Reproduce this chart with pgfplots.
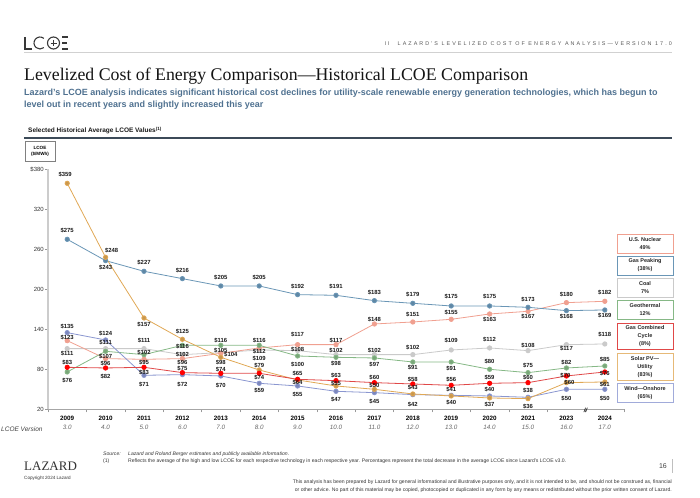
\documentclass[border=0pt]{standalone}
\usepackage{fontspec}
\setmainfont{Liberation Sans}
\newfontfamily\serif{Liberation Serif}
\newfontfamily\spaced{Liberation Sans}[LetterSpace=38]
\usepackage{pgfplots}
\usepackage{pgfplotstable}
\pgfplotsset{compat=1.18}

\definecolor{cNuc}{HTML}{F0A090}
\definecolor{cGP}{HTML}{6A96B6}
\definecolor{cCoal}{HTML}{CACACA}
\definecolor{cGeo}{HTML}{86B886}
\definecolor{cGCC}{HTML}{E04848}
\definecolor{cRed}{HTML}{FF0000}
\definecolor{cSol}{HTML}{E0A855}
\definecolor{cWind}{HTML}{8A96D0}
\definecolor{cSub}{HTML}{4F7190}
\definecolor{cRule}{HTML}{3C4A58}

\newcommand\lab{\fontsize{5.9}{6}\selectfont\bfseries}
\newcommand\yl[2]{\textbf{#1}\\\textcolor{black!60}{\itshape #2}}

% x = position (2022 not shown), y = LCOE, dy/dx = label offset in pt
\pgfplotstableread{
x y dy dx
0 275 8.6 0
1 243 -7 0
2 227 8.5 0
3 216 8.6 0
4 205 8.6 0
5 205 8.6 0
6 192 8.6 0
7 191 8.6 0
8 183 8.6 0
9 179 9 0
10 175 9.5 0
11 175 9.5 0
12 173 8 0
13 168 -6 0
14 169 -6 0
}\tGP
\pgfplotstableread{
x y dy dx
0 359 9.2 -2
1 248 6.5 6
2 157 -6.3 0
3 125 7.6 0
4 98 -5.4 0
5 79 4.3 0
6 64 -2.7 0
7 55 2.7 0
8 50 3.3 0
9 43 6.7 0
10 40 -6.3 0
11 37 -7 0
12 36 -7.4 0
13 60 0 3
14 61 -2.3 0
}\tSol
\pgfplotstableread{
x y dy dx
0 123 3.3 0
1 96 -4.5 0
2 95 -3.4 0
3 96 -4 0
4 104 -1.5 10
5 112 -3.3 0
6 117 10 0
7 117 4.6 0
8 148 4.7 0
9 151 7.7 0
10 155 6.6 0
11 163 -5.3 0
12 167 -5.4 0
13 180 8.3 0
14 182 8.6 0
}\tNuc
\pgfplotstableread{
x y dy dx
0 111 -4.7 0
1 111 6.6 0
2 111 8 0
3 102 0 0
4 105 2.6 0
5 109 -9 0
6 108 1.6 0
7 102 4.6 0
8 102 4.6 0
9 102 7 0
10 109 9 0
11 112 8.7 0
12 108 5.6 0
13 117 -4 0
14 118 9.7 0
}\tCoal
\pgfplotstableread{
x y dy dx
0 76 -9 0
1 107 -5 0
2 102 2 0
3 116 -1 0
4 116 4.6 0
5 116 4.3 0
6 100 -9 0
7 98 -6 0
8 97 -6.3 0
9 91 -5.7 0
10 91 -7 0
11 80 7.6 0
12 75 7.6 0
13 82 5.7 0
14 85 6 0
}\tGeo
\pgfplotstableread{
x y dy dx
0 83 4.6 0
1 82 -9 0
2 83 -5.3 0
3 75 4.3 0
4 74 4 0
5 74 -4.3 0
6 65 5.6 0
7 63 5 0
8 60 5.3 0
9 58 4 0
10 56 6 0
11 59 5.6 0
12 60 4.9 0
13 70 0 -1
14 76 -1.6 0
}\tGCC
\pgfplotstableread{
x y dy dx
0 135 6 0
1 124 6.7 0
2 71 -9 0
3 72 -9.7 0
4 70 -9.7 0
5 59 -7.4 0
6 55 -9 0
7 47 -8.7 0
8 45 -9 0
9 42 -9.7 0
10 41 5.3 0
11 40 6.7 0
12 38 6.6 0
13 50 -9.7 0
14 50 -9.7 0
}\tWind

\newcommand\lbox[5]{%
  \draw[#1, line width=0.7pt] (617pt,-#2pt) rectangle (673pt,-#3pt);
  \node[align=center, inner sep=0pt, font=\fontsize{5.5}{8}\selectfont\bfseries, text=black!85]
    at (645pt,{-(#2+#3)/2*1pt}) {#4};}

\begin{document}
\begin{tikzpicture}
\useasboundingbox (0,0) rectangle (700pt,-497pt);

% logo
\begin{scope}[draw=black!78, line width=1.1pt]
\draw (25pt,-37pt) -- (25pt,-49pt) -- (32pt,-49pt);
\draw (40pt,-43pt) ++(50:6pt) arc[start angle=50, end angle=310, radius=6pt];
\draw (53.5pt,-43pt) circle[radius=6pt];
\draw[line width=0.8pt] (50.5pt,-43pt) -- (56.5pt,-43pt) (53.5pt,-40pt) -- (53.5pt,-46pt);
\draw (62pt,-37pt) -- (68pt,-37pt) (62pt,-43pt) -- (67pt,-43pt) (62pt,-49pt) -- (68pt,-49pt);
\end{scope}
\node[anchor=base east, inner sep=0pt, font=\spaced\fontsize{5.4}{6}\selectfont, text=black!65]
  at (672pt,-46pt) {II\hspace{8pt}LAZARD'S LEVELIZED COST OF ENERGY ANALYSIS—VERSION 17.0};
\draw[black!18, line width=0.6pt] (24pt,-52pt) -- (672pt,-52pt);

% titles
\node[anchor=base west, inner sep=0pt, font=\serif\fontsize{17.8}{20}\selectfont, text=black!92]
  at (24pt,-80.5pt) {Levelized Cost of Energy Comparison—Historical LCOE Comparison};
\node[anchor=base west, inner sep=0pt, font=\fontsize{9}{10}\selectfont\bfseries, text=cSub]
  at (24pt,-95.5pt) {Lazard's LCOE analysis indicates significant historical cost declines for utility-scale renewable energy generation technologies, which has begun to};
\node[anchor=base west, inner sep=0pt, font=\fontsize{9}{10}\selectfont\bfseries, text=cSub]
  at (24pt,-108pt) {level out in recent years and slightly increased this year};
\node[anchor=base west, inner sep=0pt, font=\fontsize{6.5}{7}\selectfont\bfseries, text=black!90]
  at (28pt,-133pt) {Selected Historical Average LCOE Values\textsuperscript{(1)}};
\draw[cRule, line width=1.1pt] (24pt,-138pt) -- (672pt,-138pt);
\draw[black!50, line width=0.6pt] (25pt,-141pt) rectangle (55pt,-161pt);
\node[align=center, inner sep=0pt, font=\fontsize{4.6}{6}\selectfont\bfseries]
  at (40pt,-151pt) {LCOE\\(\$/MWh)};
\node[anchor=base west, inner sep=0pt, font=\fontsize{6.5}{8}\selectfont\itshape, text=black!75]
  at (1pt,-431pt) {LCOE Version};

\begin{axis}[
  at={(48pt,-409.3pt)}, anchor=south west,
  scale only axis, width=576pt, height=240pt,
  xmin=-0.5, xmax=14.5, ymin=20, ymax=380,
  clip=false,
  axis lines*=left,
  x axis line style={draw=black!35, line width=0.6pt},
  y axis line style={draw=black!20, line width=1.8pt},
  tick align=outside,
  major tick length=3pt,
  ytick={20,80,140,200,260,320,380},
  yticklabels={20,80,140,200,260,320,\$380},
  yticklabel style={font=\fontsize{6}{7}\selectfont, text=black!80, inner sep=0pt, xshift=-1pt},
  ytick style={draw=black!40, line width=0.5pt},
  xtick={-0.5,0.5,...,14.5},
  xticklabels={},
  xtick style={draw=black!40, line width=0.5pt},
  extra x ticks={0,1,...,14},
  extra x tick labels={\yl{2009}{3.0},\yl{2010}{4.0},\yl{2011}{5.0},\yl{2012}{6.0},\yl{2013}{7.0},
    \yl{2014}{8.0},\yl{2015}{9.0},\yl{2016}{10.0},\yl{2017}{11.0},\yl{2018}{12.0},\yl{2019}{13.0},
    \yl{2020}{14.0},\yl{2021}{15.0},\yl{2023}{16.0},\yl{2024}{17.0}},
  extra x tick style={major tick length=0pt,
    tick label style={align=center, font=\fontsize{6.3}{9.4}\selectfont, inner sep=0pt, anchor=north, yshift=-6.5pt}},
  every axis plot/.append style={line width=0.8pt, mark=*, mark size=2.2pt},
]
\addplot[cCoal, mark options={fill=cCoal}] table[x=x,y=y]{\tCoal};
\addplot[cNuc, mark options={fill=cNuc}] table[x=x,y=y]{\tNuc};
\addplot[cGeo, mark options={fill=cGeo!90!black}] table[x=x,y=y]{\tGeo};
\addplot[cGP, mark options={fill=cGP!90!black}] table[x=x,y=y]{\tGP};
\addplot[cWind, mark options={fill=cWind!90!black}] table[x=x,y=y]{\tWind};
\addplot[cSol, mark options={fill=cSol!90!black}] table[x=x,y=y]{\tSol};
\addplot[cGCC, mark options={fill=cRed, draw=cRed}] table[x=x,y=y]{\tGCC};

\pgfplotsset{lbl/.style={draw=none, mark=none, point meta=explicit symbolic,
  nodes near coords={\$\pgfplotspointmeta},
  visualization depends on={\thisrow{dy}\as\dy},
  visualization depends on={\thisrow{dx}\as\dx},
  every node near coord/.append style={anchor=center, inner sep=0pt,
    xshift=\dx pt, yshift=\dy pt, font=\lab, text=black!90}}}
\addplot[lbl] table[x=x,y=y,meta=y]{\tCoal};
\addplot[lbl] table[x=x,y=y,meta=y]{\tNuc};
\addplot[lbl] table[x=x,y=y,meta=y]{\tGeo};
\addplot[lbl] table[x=x,y=y,meta=y]{\tGP};
\addplot[lbl] table[x=x,y=y,meta=y]{\tWind};
\addplot[lbl] table[x=x,y=y,meta=y]{\tSol};
\addplot[lbl] table[x=x,y=y,meta=y]{\tGCC};

\node[font=\fontsize{6}{6}\selectfont\bfseries\itshape, inner sep=0pt, yshift=-1pt] at (axis cs:13.5,20) {//};
\end{axis}

% legend boxes
\lbox{cNuc}{234}{253.3}{U.S. Nuclear\\49\%}{}
\lbox{cGP}{256}{275}{Gas Peaking\\(38\%)}{}
\lbox{cCoal}{278.7}{297.3}{Coal\\7\%}{}
\lbox{cGeo}{300.7}{319.3}{Geothermal\\12\%}{}
\lbox{cGCC}{323}{349.3}{Gas Combined\\Cycle\\(8\%)}{}
\lbox{cSol!80}{353.3}{380}{Solar PV—\\Utility\\(83\%)}{}
\lbox{cWind!80}{383.3}{402.3}{Wind—Onshore\\(65\%)}{}

% footer
\begin{scope}[font=\fontsize{5.1}{6}\selectfont, text=black!80]
\node[anchor=base west, inner sep=0pt, font=\fontsize{5.1}{6}\selectfont\itshape] at (103pt,-455pt) {Source:};
\node[anchor=base west, inner sep=0pt, font=\fontsize{5.1}{6}\selectfont\itshape] at (128pt,-455pt) {Lazard and Roland Berger estimates and publicly available information.};
\node[anchor=base west, inner sep=0pt] at (103pt,-462pt) {(1)};
\node[anchor=base west, inner sep=0pt] at (128pt,-462pt) {Reflects the average of the high and low LCOE for each respective technology in each respective year. Percentages represent the total decrease in the average LCOE since Lazard's LCOE v3.0.};
\node[anchor=base east, inner sep=0pt] at (672pt,-483pt) {This analysis has been prepared by Lazard for general informational and illustrative purposes only, and it is not intended to be, and should not be construed as, financial};
\node[anchor=base east, inner sep=0pt] at (672pt,-491pt) {or other advice. No part of this material may be copied, photocopied or duplicated in any form by any means or redistributed without the prior written consent of Lazard.};
\end{scope}
\node[anchor=base west, inner sep=0pt, font=\serif\fontsize{13}{14}\selectfont, text=black!80] at (24pt,-470pt) {LAZARD};
\node[anchor=base west, inner sep=0pt, font=\fontsize{4.6}{5}\selectfont, text=black!80] at (24pt,-479pt) {Copyright 2024 Lazard};
\node[anchor=base east, inner sep=0pt, font=\fontsize{7}{8}\selectfont, text=black!75] at (667pt,-468pt) {16};
\draw[black!25, line width=0.6pt] (672pt,-459pt) -- (672pt,-473pt);
\end{tikzpicture}
\end{document}
